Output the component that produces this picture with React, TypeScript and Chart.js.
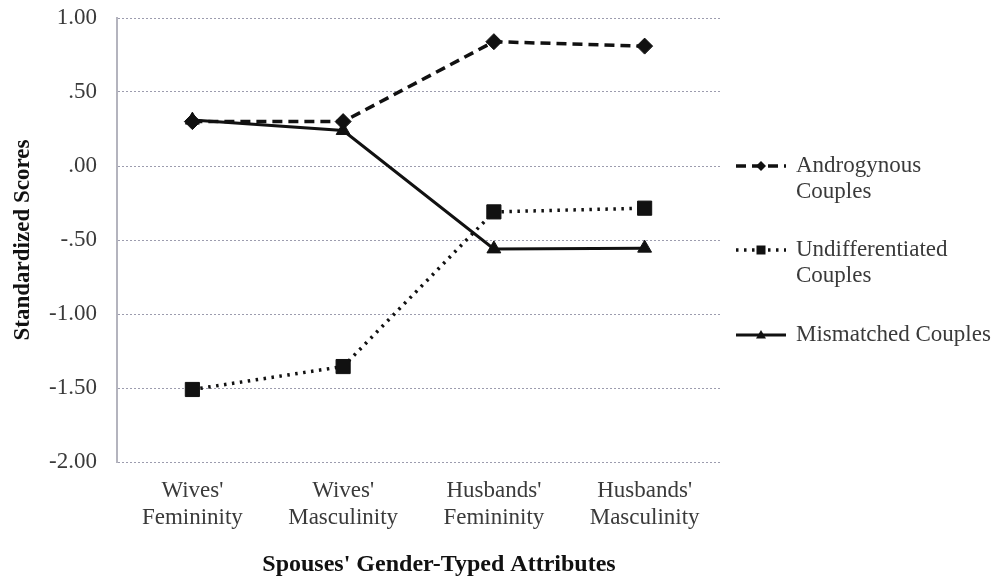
import React, { useEffect, useRef } from 'react';
import { Chart, registerables } from 'chart.js';

Chart.register(...registerables);

const categories: string[][] = [
  ["Wives'", 'Femininity'],
  ["Wives'", 'Masculinity'],
  ["Husbands'", 'Femininity'],
  ["Husbands'", 'Masculinity'],
];
const androgynous = [0.3, 0.3, 0.84, 0.81];
const undifferentiated = [-1.51, -1.355, -0.31, -0.285];
const mismatched = [0.31, 0.24, -0.56, -0.555];
const seriesLabels: string[][] = [
  ['Androgynous', 'Couples'],
  ['Undifferentiated', 'Couples'],
  ['Mismatched Couples'],
];
const yTitle = 'Standardized Scores';
const xTitle = "Spouses' Gender-Typed Attributes";

const SERIF = '"Liberation Serif", "DejaVu Serif", serif';

function fmtTick(v: number): string {
  const s = Math.abs(v).toFixed(2);
  const body = s.startsWith('0') ? s.slice(1) : s;
  return (v < 0 ? '-' : '') + body;
}

function drawMarker(ctx: CanvasRenderingContext2D, style: string, x: number, y: number, r: number) {
  ctx.beginPath();
  if (style === 'rectRot') {
    ctx.moveTo(x, y - r);
    ctx.lineTo(x + r, y);
    ctx.lineTo(x, y + r);
    ctx.lineTo(x - r, y);
  } else if (style === 'rect') {
    ctx.rect(x - r * 0.9, y - r * 0.9, r * 1.8, r * 1.8);
  } else {
    ctx.moveTo(x, y - r);
    ctx.lineTo(x + r, y + r * 0.7);
    ctx.lineTo(x - r, y + r * 0.7);
  }
  ctx.closePath();
  ctx.fill();
}

export default function App() {
  const ref = useRef<HTMLCanvasElement | null>(null);

  useEffect(() => {
    document.body.style.margin = '0';
    const canvas = ref.current;
    if (!canvas) return;

    const styles = [
      { dash: [10, 6], point: 'rectRot', width: 3.5, radius: 8 },
      { dash: [2.5, 5.5], point: 'rect', width: 3.5, radius: 10 },
      { dash: [], point: 'triangle', width: 3, radius: 8 },
    ];

    const overlay = {
      id: 'overlay',
      afterDraw(chart: any) {
        const ctx: CanvasRenderingContext2D = chart.ctx;
        const area = chart.chartArea;
        ctx.save();
        ctx.fillStyle = '#111';
        ctx.font = `bold 23px ${SERIF}`;
        ctx.textAlign = 'center';
        ctx.textBaseline = 'middle';
        ctx.translate(23, (area.top + area.bottom) / 2);
        ctx.rotate(-Math.PI / 2);
        ctx.fillText(yTitle, 0, 0);
        ctx.restore();

        ctx.save();
        ctx.fillStyle = '#111';
        ctx.font = `bold 24px ${SERIF}`;
        ctx.textAlign = 'center';
        ctx.textBaseline = 'middle';
        ctx.fillText(xTitle, 439, 565);
        ctx.restore();

        const ys = [166, 250, 335];
        ctx.save();
        seriesLabels.forEach((lines, i) => {
          const st = styles[i];
          const y = ys[i];
          ctx.strokeStyle = '#111';
          ctx.lineWidth = st.width;
          ctx.setLineDash(st.dash);
          ctx.lineCap = 'butt';
          ctx.beginPath();
          ctx.moveTo(736, y);
          ctx.lineTo(786, y);
          ctx.stroke();
          ctx.setLineDash([]);
          ctx.fillStyle = '#111';
          drawMarker(ctx, st.point, 761, y, 5);
          ctx.fillStyle = '#3a3a3a';
          ctx.font = `23px ${SERIF}`;
          ctx.textAlign = 'left';
          ctx.textBaseline = 'middle';
          lines.forEach((t, j) => ctx.fillText(t, 796, y + j * 26));
        });
        ctx.restore();
      },
    };

    const mk = (label: string, data: number[], i: number) => ({
      label,
      data,
      borderColor: '#111',
      backgroundColor: '#111',
      borderWidth: styles[i].width,
      borderDash: styles[i].dash,
      pointStyle: styles[i].point,
      pointRadius: styles[i].radius,
      pointBorderWidth: 1,
      pointBorderColor: '#111',
      pointBackgroundColor: '#111',
      tension: 0,
      fill: false,
    });

    const chart = new Chart(canvas, {
      type: 'line',
      data: {
        labels: categories,
        datasets: [
          mk(seriesLabels[0].join(' '), androgynous, 0),
          mk(seriesLabels[1].join(' '), undifferentiated, 1),
          mk(seriesLabels[2].join(' '), mismatched, 2),
        ],
      },
      options: {
        responsive: false,
        animation: false,
        devicePixelRatio: 1,
        layout: { padding: { top: 18, right: 272, bottom: 0, left: 0 } },
        plugins: { legend: { display: false }, tooltip: { enabled: false } },
        scales: {
          x: {
            offset: true,
            grid: { display: false, drawTicks: false },
            border: { display: false },
            ticks: {
              color: '#3a3a3a',
              font: { family: SERIF, size: 23, lineHeight: 1.15 },
              padding: 16,
              maxRotation: 0,
            },
            afterFit(scale: any) {
              scale.height = 121;
              scale.paddingLeft = 0;
              scale.paddingRight = 0;
            },
          },
          y: {
            min: -2,
            max: 1,
            grid: {
              color: '#9c9cae',
              lineWidth: 1,
              drawTicks: false,
            },
            border: { display: true, color: '#b4b4be', width: 2, dash: [2, 2] },
            ticks: {
              stepSize: 0.5,
              color: '#3a3a3a',
              font: { family: SERIF, size: 23 },
              padding: 20,
              callback: (v: any) => fmtTick(Number(v)),
            },
            afterFit(scale: any) {
              scale.width = 117;
              scale.paddingTop = 0;
              scale.paddingBottom = 0;
            },
          },
        },
      },
      plugins: [overlay],
    } as any);

    return () => chart.destroy();
  }, []);

  return (
    <div style={{ width: 992, height: 583 }}>
      <canvas ref={ref} width={992} height={583} />
    </div>
  );
}
